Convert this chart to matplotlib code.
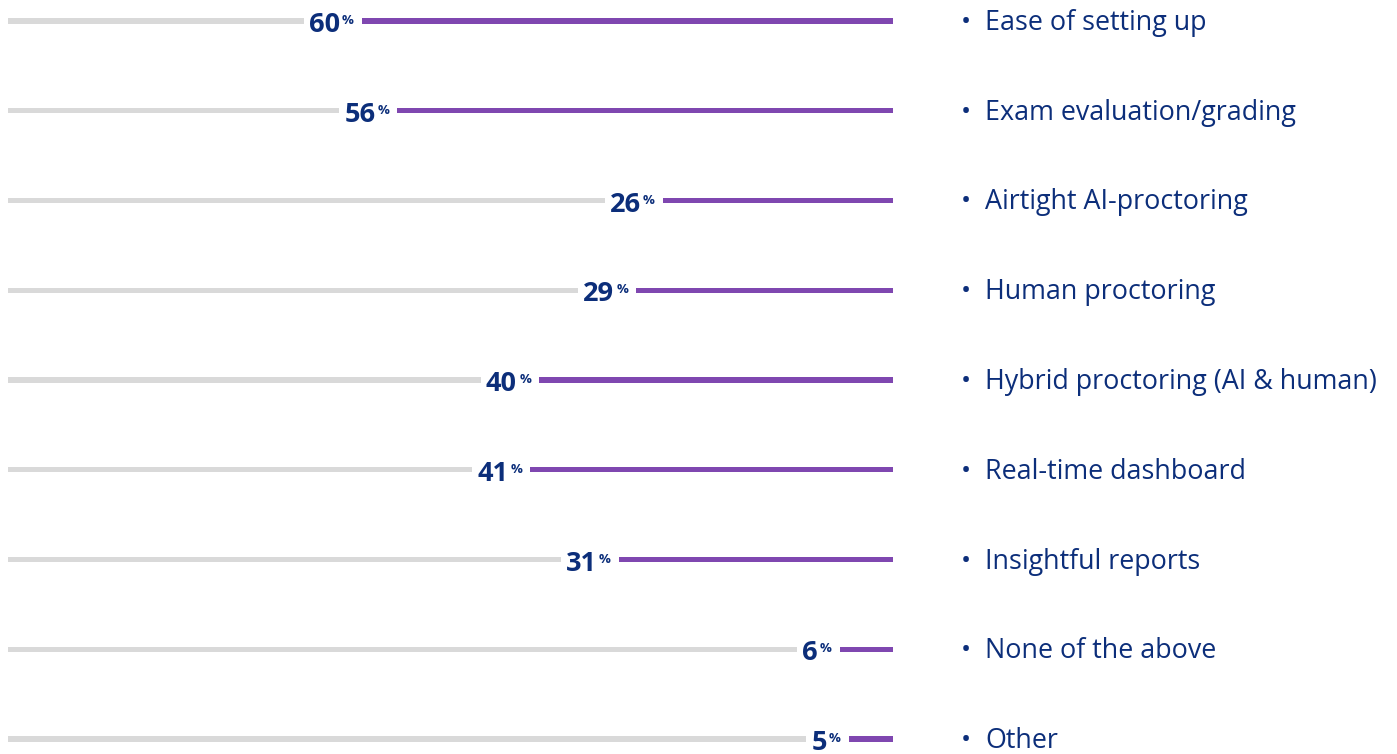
import matplotlib
matplotlib.use("Agg")
import matplotlib.pyplot as plt

categories = ["Ease of setting up", "Exam evaluation/grading", "Airtight AI-proctoring",
              "Human proctoring", "Hybrid proctoring (AI & human)", "Real-time dashboard",
              "Insightful reports", "None of the above", "Other"]
values = [60, 56, 26, 29, 40, 41, 31, 6, 5]

GRAY = "#d9d9d9"
PURPLE = "#7f47b0"
NAVY = "#0c2e7a"
FONT = ["Open Sans", "Noto Sans", "DejaVu Sans"]

W, H = 1397, 754
fig = plt.figure(figsize=(W / 100, H / 100), dpi=100)
ax = fig.add_axes([8 / W, 0, 885 / W, 1])
n = len(categories)
ypos = list(range(n))
step = 89.75
ax.set_xlim(0, 100)
ax.set_ylim(n - 1 + 15 / step, -21 / step)
ax.axis("off")

bh = 5.2 / step
starts = [100 - v for v in values]
ax.barh(ypos, values, left=starts, height=bh, color=PURPLE, zorder=4)

num_texts = []
for i, (s, v) in enumerate(zip(starts, values)):
    t = ax.annotate(f"{v}", xy=(s, i), xytext=(-22, -11), textcoords="offset pixels",
                    ha="right", va="baseline", fontsize=19.5, fontweight="bold", color=NAVY,
                    family=FONT, zorder=3, annotation_clip=False)
    num_texts.append(t)
    ax.annotate("%", xy=(s, i), xytext=(-8, -3), textcoords="offset pixels",
                ha="right", va="baseline", fontsize=9.5, fontweight="bold", color=NAVY,
                family=FONT, zorder=3, annotation_clip=False)

for i, c in enumerate(categories):
    ax.annotate("•", xy=(966, i), xycoords=("figure pixels", "data"), xytext=(0, -9),
                textcoords="offset pixels", ha="center", va="baseline", fontsize=19.4,
                color=NAVY, family=FONT, annotation_clip=False)
    ax.annotate(c, xy=(985, i), xycoords=("figure pixels", "data"), xytext=(0, -9),
                textcoords="offset pixels", ha="left", va="baseline", fontsize=19.4,
                color=NAVY, family=FONT, annotation_clip=False)

# gray track ends a few pixels before each value label
fig.canvas.draw()
renderer = fig.canvas.get_renderer()
inv = ax.transData.inverted()
gray_w = []
for t in num_texts:
    bb = t.get_window_extent(renderer)
    gray_w.append(inv.transform((bb.x0 - 5, 0))[0])
ax.barh(ypos, gray_w, left=0, height=bh, color=GRAY, zorder=1)

fig.savefig("out.png", dpi=100, facecolor="white")
